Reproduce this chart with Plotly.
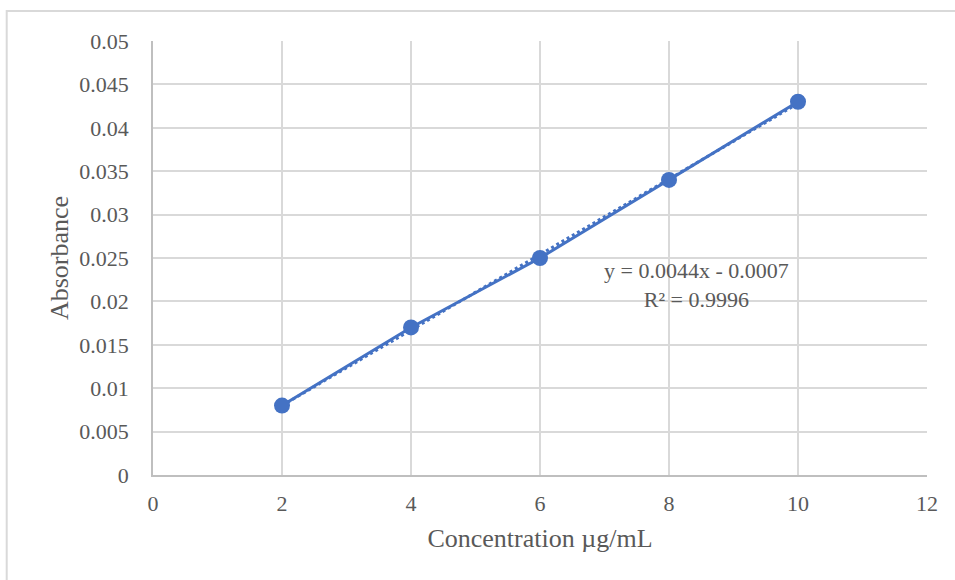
import numpy as np
import plotly.graph_objects as go

conc = [2, 4, 6, 8, 10]
absorb = [0.008, 0.017, 0.025, 0.034, 0.043]
eq_label = "y = 0.0044x - 0.0007"
r2_label = "R² = 0.9996"

fit_slope, fit_intercept = np.polyfit(conc, absorb, 1)
trend_x = [conc[0], conc[-1]]
trend_y = [fit_slope * x + fit_intercept for x in trend_x]

blue = "#4472C4"
grey = "#595959"
font = "Liberation Serif, Times New Roman, serif"

fig = go.Figure()
fig.add_trace(go.Scatter(x=trend_x, y=trend_y, mode="lines",
                         line=dict(color=blue, width=3, dash="dot"),
                         hoverinfo="skip", showlegend=False))
fig.add_trace(go.Scatter(x=conc, y=absorb, mode="lines+markers",
                         line=dict(color=blue, width=3),
                         marker=dict(color=blue, size=16),
                         showlegend=False))

# label box (covers the gridline behind the second line only)
fig.add_shape(type="rect", xref="x", yref="y", x0=7.21, x1=10.34, y0=0.0196, y1=0.0204,
              fillcolor="white", line=dict(width=0), layer="below")
fig.add_annotation(x=8.43, y=0.0219, xref="x", yref="y",
                   text=f"{eq_label}<br>{r2_label}",
                   showarrow=False, align="center",
                   font=dict(family=font, size=22, color=grey),
                   borderpad=1, xanchor="center", yanchor="middle")

fig.add_shape(type="rect", xref="paper", yref="paper",
              x0=-0.189, x1=1.1, y0=-0.4, y1=1.069,
              line=dict(color="#d9d9d9", width=2), layer="below")

fig.update_layout(
    width=955, height=580,
    margin=dict(l=153, r=28, t=41, b=105),
    paper_bgcolor="white", plot_bgcolor="white",
    font=dict(family=font, size=22, color=grey),
    xaxis=dict(range=[0, 12], dtick=2, tick0=0, showgrid=True, gridcolor="#d9d9d9",
               gridwidth=1.5, zeroline=False, showline=True, linecolor="#bfbfbf",
               linewidth=1.5, ticks="", ticklabelstandoff=8,
               title=dict(text="Concentration µg/mL", font=dict(size=26, color=grey), standoff=14),
               mirror=False),
    yaxis=dict(range=[0, 0.05], dtick=0.005, tick0=0, showgrid=True, gridcolor="#d9d9d9",
               gridwidth=1.5, zeroline=False, showline=True, linecolor="#bfbfbf",
               linewidth=1.5, ticks="", ticklabelstandoff=18, tickformat="~g",
               title=dict(text="Absorbance", font=dict(size=26, color=grey), standoff=3)),
)

fig.write_html("out.html")
